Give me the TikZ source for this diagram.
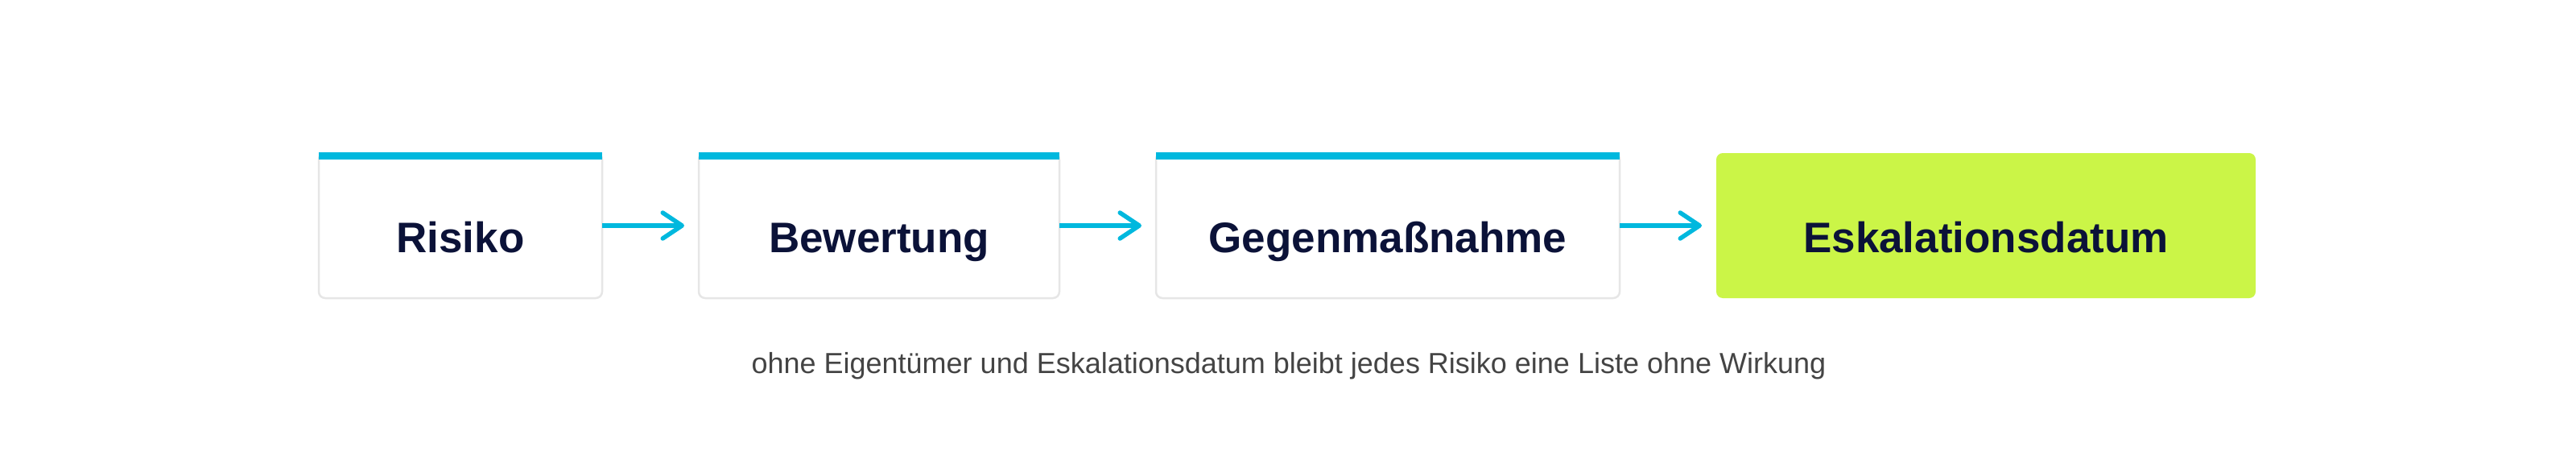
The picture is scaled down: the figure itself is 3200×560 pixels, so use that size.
\documentclass[tikz,border=0pt]{standalone}
\usepackage{fontspec}
\setmainfont{Liberation Sans}
\usetikzlibrary{positioning,arrows.meta}
\definecolor{barcyan}{HTML}{00B8DE}
\definecolor{boxgray}{HTML}{E6E6E6}
\definecolor{textnavy}{HTML}{0B1238}
\definecolor{escgreen}{HTML}{CBF547}
\definecolor{captiongray}{HTML}{444444}

\begin{document}
\begin{tikzpicture}[x=1pt,y=-1pt,
	riskbox/.style={draw=boxgray,line width=2.5pt,fill=white,rounded corners=8pt,
		inner sep=0pt,outer sep=0pt,text height=123pt,text depth=57pt,
		text=textnavy,font=\fontsize{53}{60}\selectfont\bfseries},
	escbox/.style={riskbox,draw=none,fill=escgreen},
	riskarrow/.style={draw=barcyan,line width=5.5pt,
		-{Straight Barb[length=24pt,width=32pt,round]},shorten >=18pt}]
		\useasboundingbox (0,0) rectangle (3200,560);
		\node[riskbox,minimum width=352pt,anchor=north west] (ris) at (396,190) {Risiko};
		\node[riskbox,minimum width=448pt,right=120pt of ris] (bew) {Bewertung};
		\node[riskbox,minimum width=576pt,right=120pt of bew] (geg) {Gegenmaßnahme};
		\node[escbox,minimum width=670pt,right=120pt of geg] (esk) {Eskalationsdatum};
		% top bars
		\fill[barcyan] ([yshift=1.25pt]ris.north west) rectangle ([yshift=-8pt]ris.north east);
		\fill[barcyan] ([yshift=1.25pt]bew.north west) rectangle ([yshift=-8pt]bew.north east);
		\fill[barcyan] ([yshift=1.25pt]geg.north west) rectangle ([yshift=-8pt]geg.north east);
		\draw[riskarrow] (ris) -- (bew);
		\draw[riskarrow] (bew) -- (geg);
		\draw[riskarrow] (geg) -- (esk);
		\node[font=\fontsize{36}{42}\selectfont,text=captiongray,anchor=base] (cap) at (1601,463)
			{ohne Eigentümer und Eskalationsdatum bleibt jedes Risiko eine Liste ohne Wirkung};
	\end{tikzpicture}
\end{document}
